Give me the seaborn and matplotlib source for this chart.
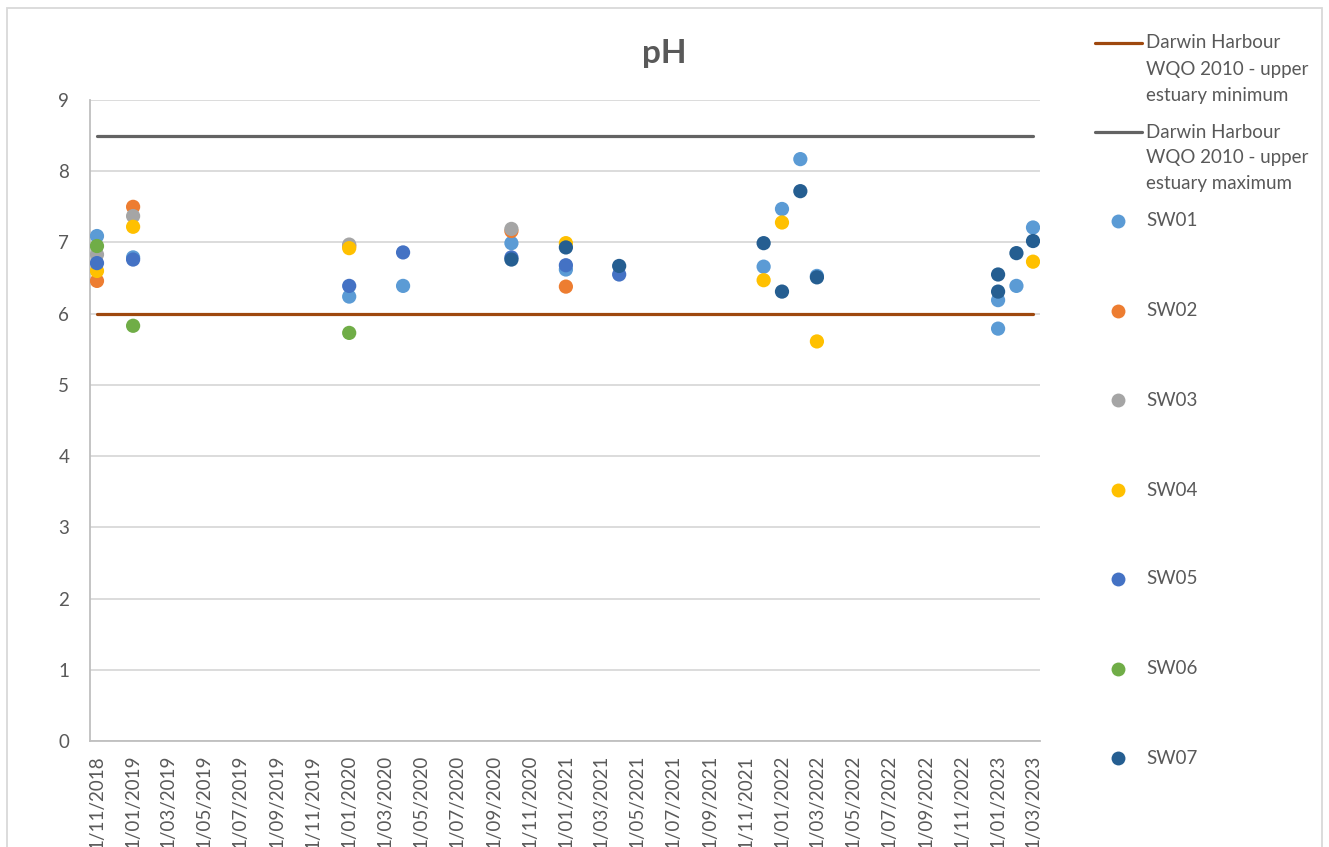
import matplotlib
matplotlib.use("Agg")
import matplotlib.pyplot as plt
import matplotlib.dates as mdates
from matplotlib.lines import Line2D
from matplotlib.patches import Rectangle
import seaborn as sns
import pandas as pd
import numpy as np

# ---------------- data ----------------
series_names = ["SW01", "SW02", "SW03", "SW04", "SW05", "SW06", "SW07"]
series_colors = ["#5B9BD5", "#ED7D31", "#A5A5A5", "#FFC000", "#4472C4", "#70AD47", "#255E91"]

sw01_dates = ["2018-11-01", "2019-01-01", "2020-01-01", "2020-04-01", "2020-10-01", "2021-01-01",
              "2021-12-01", "2022-01-01", "2022-02-01", "2022-03-01", "2023-01-01", "2023-01-01",
              "2023-02-01", "2023-03-01"]
sw01_values = [7.09, 6.79, 6.24, 6.39, 6.99, 6.62, 6.66, 7.47, 8.17, 6.53, 6.19, 5.79, 6.39, 7.21]

sw02_dates = ["2018-11-01", "2019-01-01", "2020-01-01", "2020-10-01", "2021-01-01"]
sw02_values = [6.46, 7.50, 6.95, 7.16, 6.38]

sw03_dates = ["2018-11-01", "2019-01-01", "2020-01-01", "2020-10-01"]
sw03_values = [6.83, 7.37, 6.97, 7.19]

sw04_dates = ["2018-11-01", "2019-01-01", "2020-01-01", "2021-01-01", "2021-12-01", "2022-01-01",
              "2022-03-01", "2023-03-01"]
sw04_values = [6.60, 7.22, 6.92, 6.99, 6.47, 7.28, 5.61, 6.73]

sw05_dates = ["2018-11-01", "2019-01-01", "2020-01-01", "2020-04-01", "2020-10-01", "2021-01-01",
              "2021-04-01"]
sw05_values = [6.71, 6.76, 6.39, 6.86, 6.79, 6.68, 6.55]

sw06_dates = ["2018-11-01", "2019-01-01", "2020-01-01"]
sw06_values = [6.95, 5.83, 5.73]

sw07_dates = ["2020-10-01", "2021-01-01", "2021-04-01", "2021-12-01", "2022-01-01", "2022-02-01",
              "2022-03-01", "2023-01-01", "2023-01-01", "2023-02-01", "2023-03-01"]
sw07_values = [6.76, 6.93, 6.67, 6.99, 6.31, 7.72, 6.51, 6.55, 6.31, 6.85, 7.02]

guide_dates = ["2018-11-01", "2023-03-01"]
guide_min_values = [6.0, 6.0]
guide_max_values = [8.5, 8.5]
guide_min_label = "Darwin Harbour\nWQO 2010 - upper\nestuary minimum"
guide_max_label = "Darwin Harbour\nWQO 2010 - upper\nestuary maximum"

xtick_dates = ["2018-11-01", "2019-01-01", "2019-03-01", "2019-05-01", "2019-07-01", "2019-09-01",
               "2019-11-01", "2020-01-01", "2020-03-01", "2020-05-01", "2020-07-01", "2020-09-01",
               "2020-11-01", "2021-01-01", "2021-03-01", "2021-05-01", "2021-07-01", "2021-09-01",
               "2021-11-01", "2022-01-01", "2022-03-01", "2022-05-01", "2022-07-01", "2022-09-01",
               "2022-11-01", "2023-01-01", "2023-03-01"]
xtick_labels = ["1/11/2018", "1/01/2019", "1/03/2019", "1/05/2019", "1/07/2019", "1/09/2019",
                "1/11/2019", "1/01/2020", "1/03/2020", "1/05/2020", "1/07/2020", "1/09/2020",
                "1/11/2020", "1/01/2021", "1/03/2021", "1/05/2021", "1/07/2021", "1/09/2021",
                "1/11/2021", "1/01/2022", "1/03/2022", "1/05/2022", "1/07/2022", "1/09/2022",
                "1/11/2022", "1/01/2023", "1/03/2023"]
ytick_values = [0, 1, 2, 3, 4, 5, 6, 7, 8, 9]
title_text = "pH"

# ---------------- build tables ----------------
all_dates = [sw01_dates, sw02_dates, sw03_dates, sw04_dates, sw05_dates, sw06_dates, sw07_dates]
all_values = [sw01_values, sw02_values, sw03_values, sw04_values, sw05_values, sw06_values, sw07_values]
frames = []
for name, d, v in zip(series_names, all_dates, all_values):
    frames.append(pd.DataFrame({"date": pd.to_datetime(d), "pH": v, "site": name}))
pts = pd.concat(frames, ignore_index=True)

guide = pd.DataFrame({
    "date": pd.to_datetime(guide_dates + guide_dates),
    "pH": guide_min_values + guide_max_values,
    "kind": ["min"] * len(guide_dates) + ["max"] * len(guide_dates),
})

# ---------------- style ----------------
sns.set_theme(style="white")
plt.rcParams["font.family"] = ["Lato", "DejaVu Sans"]
text_color = "#595959"
grid_color = "#D9D9D9"
min_color = "#9E480E"
max_color = "#636363"

W, H = 1329, 847
fig = plt.figure(figsize=(W / 100, H / 100), dpi=100)
ax_left, ax_right, ax_top, ax_bottom = 90, 1040, 100, 741
ax = fig.add_axes([ax_left / W, 1 - ax_bottom / H, (ax_right - ax_left) / W, (ax_bottom - ax_top) / H])

# guide lines
sns.lineplot(data=guide, x="date", y="pH", hue="kind", hue_order=["min", "max"],
             palette=[min_color, max_color], linewidth=2.3, legend=False, ax=ax, zorder=2)

# points
sns.scatterplot(data=pts, x="date", y="pH", hue="site", hue_order=series_names,
                palette=series_colors, s=105, linewidth=0, edgecolor="none",
                legend=False, ax=ax, zorder=3)

# axes
x0 = mdates.date2num(pd.Timestamp("2018-11-01")) - 11.8
x1 = mdates.date2num(pd.Timestamp("2023-03-01")) + 11.8
ax.set_xlim(x0, x1)
ax.set_ylim(0, 9)
ax.set_xticks(mdates.date2num(pd.to_datetime(xtick_dates)))
ax.set_xticklabels(xtick_labels, rotation=90, fontsize=13.5, color=text_color, va="top")
ax.set_yticks(ytick_values)
ax.set_yticklabels([str(v) for v in ytick_values], fontsize=13.5, color=text_color)
ax.tick_params(axis="x", length=0, pad=10)
ax.tick_params(axis="y", length=0, pad=15)
ax.set_xlabel("")
ax.set_ylabel("")
ax.grid(axis="y", color=grid_color, linewidth=1.3)
ax.grid(axis="x", visible=False)
ax.set_axisbelow(True)
for side in ["top", "right"]:
    ax.spines[side].set_visible(False)
for side in ["left", "bottom"]:
    ax.spines[side].set_color("#BFBFBF")
    ax.spines[side].set_linewidth(1.3)

# title
fig.text(664 / W, 1 - 54 / H, title_text, ha="center", va="center", fontsize=24,
         fontweight="bold", color=text_color)

# legend (manual, Excel style)
def fy(py):
    return 1 - py / H

text_x = 1146 / W
for label, color, top in [(guide_min_label, min_color, 43), (guide_max_label, max_color, 132)]:
    fig.add_artist(Line2D([1095 / W, 1142 / W], [fy(top), fy(top)], color=color, lw=2.3,
                          transform=fig.transFigure))
    for i, line in enumerate(label.split("\n")):
        fig.text(text_x, fy(top + i * 26), line, ha="left", va="center", fontsize=13.5,
                 color=text_color)

leg_y = [221, 311, 400, 490, 579, 669, 758]
for name, color, py in zip(series_names, series_colors, leg_y):
    fig.add_artist(Line2D([1118 / W], [fy(py)], marker="o", markersize=10, color=color,
                          markeredgewidth=0, linestyle="none", transform=fig.transFigure))
    fig.text(text_x, fy(py), name, ha="left", va="center", fontsize=13.5, color=text_color)

# outer chart border
fig.add_artist(Rectangle((7 / W, -0.05), (1322 - 7) / W, 1.05 - 8 / H, fill=False,
                         edgecolor=grid_color, linewidth=1.3, transform=fig.transFigure))

fig.savefig("out.png", dpi=100)
